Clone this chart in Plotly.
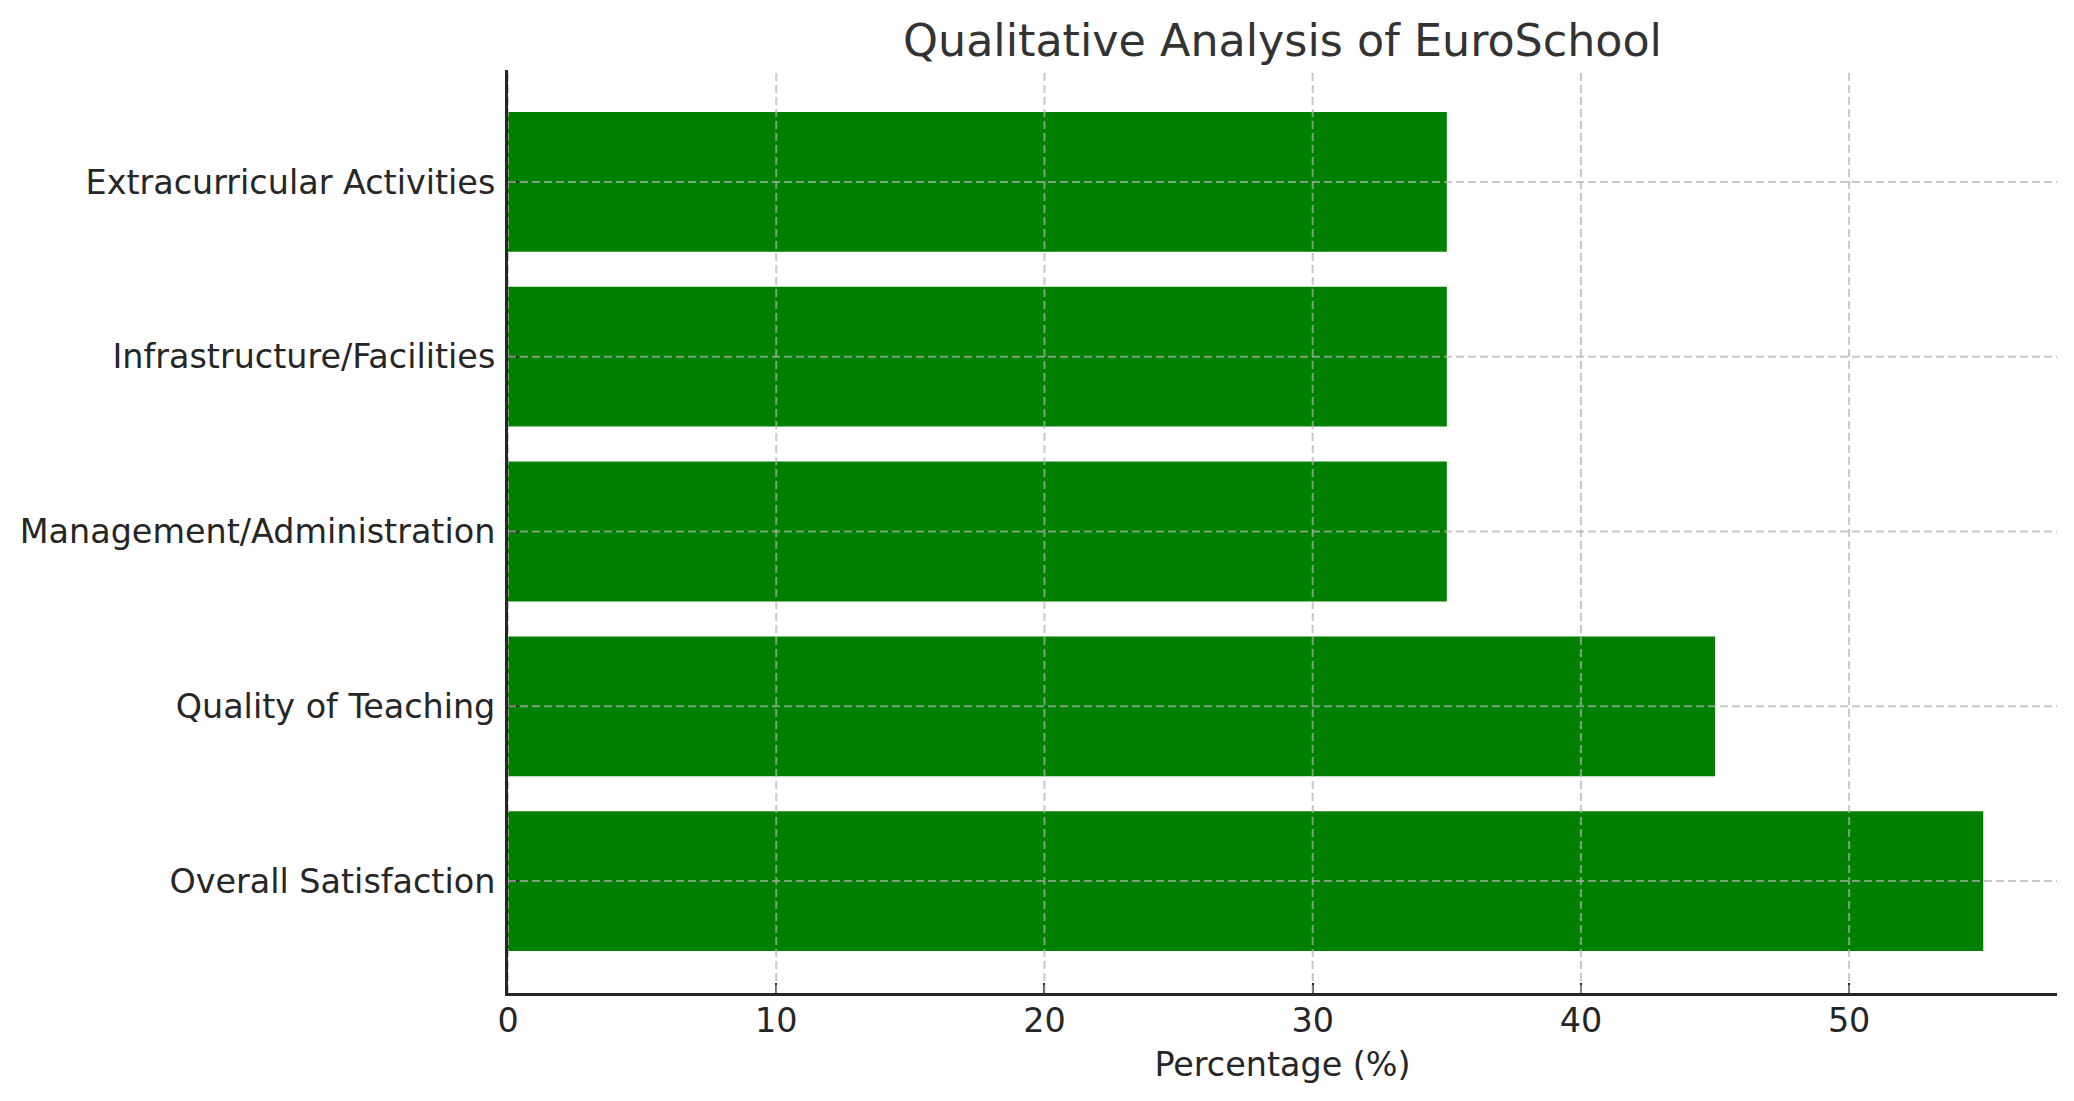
import plotly.graph_objects as go

# categories listed bottom -> top, as they appear on the chart
aspects = [
    "Overall Satisfaction",
    "Quality of Teaching",
    "Management/Administration",
    "Infrastructure/Facilities",
    "Extracurricular Activities",
]
percentages = [55, 45, 35, 35, 35]
x_ticks = [0, 10, 20, 30, 40, 50]

grid_color = "rgba(176, 176, 176, 0.7)"
ink = "#262626"

fig = go.Figure()

fig.add_trace(go.Bar(
    x=percentages,
    y=aspects,
    orientation="h",
    width=0.8,
    marker=dict(color="#008000", line=dict(width=0)),
    showlegend=False,
))

# matplotlib draws its grid above the bars, so do the same with shapes
for t in x_ticks:
    fig.add_shape(type="line", xref="x", yref="paper", x0=t, x1=t, y0=0, y1=1,
                  line=dict(color=grid_color, width=2, dash="8px,4px"), layer="above")
for a in aspects:
    fig.add_shape(type="line", xref="paper", yref="y", x0=0, x1=1, y0=a, y1=a,
                  line=dict(color=grid_color, width=2, dash="8px,4px"), layer="above")

# page body adds an 8px offset, margins compensate for it
fig.update_layout(
    width=2074,
    height=1101,
    margin=dict(l=500, r=25, t=62, b=116),
    plot_bgcolor="white",
    paper_bgcolor="white",
    font=dict(family="DejaVu Sans", size=33.4, color=ink),
    bargap=0.2,
    title=dict(
        text="Qualitative Analysis of EuroSchool",
        font=dict(family="DejaVu Sans", size=44.4, color="#333333"),
        x=(500 + 2049) / 2 / 2074,
        xanchor="center",
        xref="container",
        y=1 - 32 / 1101,
        yanchor="middle",
    ),
    xaxis=dict(
        range=[0, 57.75],
        tickvals=x_ticks,
        showgrid=False,
        zeroline=False,
        showline=True,
        linecolor=ink,
        linewidth=3,
        ticks="inside",
        ticklen=10,
        tickwidth=2,
        tickcolor=ink,
        ticklabelstandoff=-4,
        layer="above traces",
        title=dict(text="Percentage (%)", standoff=14,
                   font=dict(family="DejaVu Sans", size=33.4, color=ink)),
    ),
    yaxis=dict(
        type="category",
        categoryorder="array",
        categoryarray=aspects,
        range=[-0.64, 4.64],
        showgrid=False,
        zeroline=False,
        showline=True,
        linecolor=ink,
        linewidth=3,
        ticks="inside",
        ticklen=10,
        tickwidth=2,
        tickcolor=ink,
        ticklabelstandoff=3,
        layer="above traces",
    ),
)

fig.write_html("out.html")
